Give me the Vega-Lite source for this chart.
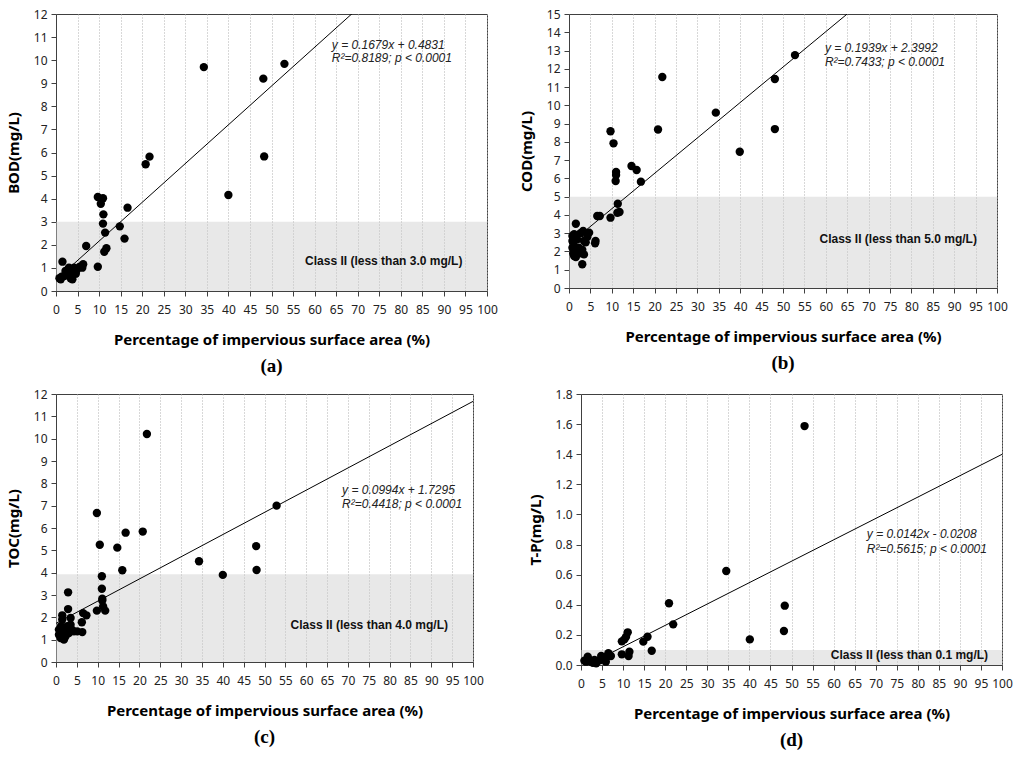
{
  "$schema": "https://vega.github.io/schema/vega-lite/v6.json",
  "padding": {"left": 5, "top": 7, "right": 5, "bottom": 5},
  "background": "white",
  "datasets": {
    "bod": [
      {"x": 34.3, "y": 9.7}, {"x": 40.0, "y": 4.16}, {"x": 20.8, "y": 5.49}, {"x": 21.7, "y": 5.82},
      {"x": 16.6, "y": 3.61}, {"x": 14.8, "y": 2.8}, {"x": 15.9, "y": 2.27}, {"x": 9.7, "y": 4.07},
      {"x": 10.9, "y": 4.02}, {"x": 10.4, "y": 3.78}, {"x": 11.0, "y": 3.32}, {"x": 10.9, "y": 2.92},
      {"x": 11.4, "y": 2.53}, {"x": 11.7, "y": 1.85}, {"x": 11.2, "y": 1.7}, {"x": 9.7, "y": 1.05},
      {"x": 7.0, "y": 1.95}, {"x": 6.3, "y": 1.16}, {"x": 6.1, "y": 1.01}, {"x": 53.0, "y": 9.84},
      {"x": 48.1, "y": 9.2}, {"x": 48.3, "y": 5.83}, {"x": 1.5, "y": 1.27}, {"x": 1.1, "y": 0.51},
      {"x": 1.9, "y": 0.65}, {"x": 2.6, "y": 0.72}, {"x": 3.4, "y": 0.87}, {"x": 3.8, "y": 0.51},
      {"x": 4.2, "y": 1.01}, {"x": 4.9, "y": 0.94}, {"x": 4.6, "y": 0.75}, {"x": 3.0, "y": 1.01},
      {"x": 3.4, "y": 0.55}, {"x": 2.2, "y": 0.87}, {"x": 1.3, "y": 0.62}, {"x": 0.8, "y": 0.55},
      {"x": 5.5, "y": 1.05}, {"x": 4.0, "y": 0.7}
    ],
    "cod": [
      {"x": 21.8, "y": 11.55}, {"x": 20.8, "y": 8.68}, {"x": 34.3, "y": 9.6}, {"x": 39.9, "y": 7.46},
      {"x": 48.1, "y": 11.44}, {"x": 48.1, "y": 8.7}, {"x": 52.8, "y": 12.75}, {"x": 9.7, "y": 8.58},
      {"x": 10.4, "y": 7.92}, {"x": 11.0, "y": 6.35}, {"x": 11.0, "y": 6.19}, {"x": 10.9, "y": 5.86},
      {"x": 14.6, "y": 6.68}, {"x": 15.8, "y": 6.46}, {"x": 16.8, "y": 5.82}, {"x": 11.4, "y": 4.61},
      {"x": 11.3, "y": 4.12}, {"x": 11.8, "y": 4.16}, {"x": 9.7, "y": 3.85}, {"x": 6.6, "y": 3.94},
      {"x": 7.2, "y": 3.94}, {"x": 6.1, "y": 2.45}, {"x": 6.2, "y": 2.57}, {"x": 1.6, "y": 3.52},
      {"x": 3.1, "y": 1.3}, {"x": 1.2, "y": 1.75}, {"x": 3.5, "y": 1.84}, {"x": 4.7, "y": 3.03},
      {"x": 3.3, "y": 3.12}, {"x": 1.2, "y": 2.94}, {"x": 0.8, "y": 2.57}, {"x": 0.8, "y": 2.2},
      {"x": 2.3, "y": 2.12}, {"x": 3.5, "y": 2.57}, {"x": 1.9, "y": 2.66}, {"x": 1.6, "y": 1.7},
      {"x": 2.3, "y": 2.21}, {"x": 1.9, "y": 2.03}, {"x": 3.1, "y": 2.1}, {"x": 0.8, "y": 2.85},
      {"x": 2.7, "y": 3.0}, {"x": 1.2, "y": 2.3}, {"x": 4.3, "y": 2.8}, {"x": 2.5, "y": 1.9},
      {"x": 3.9, "y": 2.5}, {"x": 1.0, "y": 1.9}
    ],
    "toc": [
      {"x": 21.8, "y": 10.21}, {"x": 9.8, "y": 6.67}, {"x": 10.5, "y": 5.25}, {"x": 14.7, "y": 5.12},
      {"x": 16.7, "y": 5.79}, {"x": 20.8, "y": 5.84}, {"x": 15.9, "y": 4.11}, {"x": 34.3, "y": 4.51},
      {"x": 40.0, "y": 3.9}, {"x": 48.0, "y": 5.19}, {"x": 48.1, "y": 4.12}, {"x": 52.9, "y": 7.0},
      {"x": 11.0, "y": 3.84}, {"x": 11.0, "y": 3.28}, {"x": 11.1, "y": 2.83}, {"x": 11.1, "y": 2.75},
      {"x": 11.3, "y": 2.49}, {"x": 11.8, "y": 2.3}, {"x": 9.8, "y": 2.3}, {"x": 6.5, "y": 2.19},
      {"x": 7.3, "y": 2.09}, {"x": 6.2, "y": 1.78}, {"x": 6.3, "y": 1.34}, {"x": 2.9, "y": 3.12},
      {"x": 2.9, "y": 2.37}, {"x": 3.5, "y": 1.97}, {"x": 1.5, "y": 2.09}, {"x": 1.5, "y": 1.9},
      {"x": 0.7, "y": 1.45}, {"x": 1.1, "y": 1.07}, {"x": 2.3, "y": 1.15}, {"x": 2.7, "y": 1.6},
      {"x": 4.3, "y": 1.37}, {"x": 5.1, "y": 1.37}, {"x": 3.5, "y": 1.67}, {"x": 1.5, "y": 1.37},
      {"x": 2.3, "y": 1.52}, {"x": 1.9, "y": 1.0}, {"x": 0.7, "y": 1.22}, {"x": 3.1, "y": 1.3},
      {"x": 1.2, "y": 1.6}, {"x": 2.0, "y": 1.25}, {"x": 3.8, "y": 1.45}
    ],
    "tp": [
      {"x": 53.1, "y": 1.587}, {"x": 34.5, "y": 0.624}, {"x": 20.9, "y": 0.41}, {"x": 21.9, "y": 0.27},
      {"x": 40.1, "y": 0.17}, {"x": 48.4, "y": 0.394}, {"x": 48.2, "y": 0.226}, {"x": 11.1, "y": 0.217},
      {"x": 10.7, "y": 0.188}, {"x": 10.3, "y": 0.17}, {"x": 9.7, "y": 0.157}, {"x": 15.8, "y": 0.188},
      {"x": 14.8, "y": 0.155}, {"x": 16.8, "y": 0.095}, {"x": 9.7, "y": 0.071}, {"x": 11.5, "y": 0.088},
      {"x": 11.3, "y": 0.06}, {"x": 6.5, "y": 0.078}, {"x": 7.1, "y": 0.06}, {"x": 1.2, "y": 0.022},
      {"x": 1.6, "y": 0.055}, {"x": 2.4, "y": 0.022}, {"x": 3.2, "y": 0.033}, {"x": 3.6, "y": 0.011},
      {"x": 4.8, "y": 0.06}, {"x": 4.6, "y": 0.033}, {"x": 5.5, "y": 0.038}, {"x": 6.1, "y": 0.055},
      {"x": 5.9, "y": 0.022}, {"x": 4.0, "y": 0.027}, {"x": 2.0, "y": 0.033}, {"x": 0.8, "y": 0.029},
      {"x": 2.8, "y": 0.015}, {"x": 5.2, "y": 0.05}
    ]
  },
  "vconcat": [
    {
      "hconcat": [
        {
          "width": 431,
          "height": 277,
          "title": "(a)",
          "encoding": {
            "x": {"field": "x", "type": "quantitative", "scale": {"domain": [0, 100], "nice": false},
              "axis": {"values": [0, 5, 10, 15, 20, 25, 30, 35, 40, 45, 50, 55, 60, 65, 70, 75, 80, 85, 90, 95, 100], "title": "Percentage of impervious surface area (%)"}},
            "y": {"field": "y", "type": "quantitative", "scale": {"domain": [0, 12], "nice": false},
              "axis": {"values": [0, 1, 2, 3, 4, 5, 6, 7, 8, 9, 10, 11, 12], "title": "BOD(mg/L)"}}
          },
          "layer": [
            {"data": {"values": [{"x": 0, "x2": 100, "y": 0, "y2": 3.0}]},
              "mark": {"type": "rect", "fill": "#cccccc", "fillOpacity": 0.45},
              "encoding": {"x2": {"field": "x2"}, "y2": {"field": "y2"}}},
            {"data": {"values": [{"x": 0, "y": 0.4831}, {"x": 100, "y": 17.2731}]},
              "mark": {"type": "line", "color": "black", "strokeWidth": 1, "clip": true}, "encoding": {}},
            {"data": {"name": "bod"}, "mark": {"type": "circle", "size": 70, "color": "black", "opacity": 1}},
            {"data": {"values": [{"x": 64.0, "y": 10.66, "label": "y = 0.1679x + 0.4831"}, {"x": 64.0, "y": 10.1, "label": "R²=0.8189; p < 0.0001"}]},
              "mark": {"type": "text", "align": "left", "baseline": "middle", "font": "Liberation Sans", "fontSize": 12, "fontStyle": "italic", "color": "#222"},
              "encoding": {"text": {"field": "label"}}},
            {"data": {"values": [{"x": 94.3, "y": 1.3, "label": "Class II (less than 3.0 mg/L)"}]},
              "mark": {"type": "text", "align": "right", "baseline": "middle", "font": "Liberation Sans", "fontSize": 12, "fontWeight": "bold", "color": "#111"},
              "encoding": {"text": {"field": "label"}}}
          ]
        },
        {
          "width": 428,
          "height": 274,
          "title": "(b)",
          "encoding": {
            "x": {"field": "x", "type": "quantitative", "scale": {"domain": [0, 100], "nice": false},
              "axis": {"values": [0, 5, 10, 15, 20, 25, 30, 35, 40, 45, 50, 55, 60, 65, 70, 75, 80, 85, 90, 95, 100], "title": "Percentage of impervious surface area (%)"}},
            "y": {"field": "y", "type": "quantitative", "scale": {"domain": [0, 15], "nice": false},
              "axis": {"values": [0, 1, 2, 3, 4, 5, 6, 7, 8, 9, 10, 11, 12, 13, 14, 15], "title": "COD(mg/L)"}}
          },
          "layer": [
            {"data": {"values": [{"x": 0, "x2": 100, "y": 0, "y2": 5.0}]},
              "mark": {"type": "rect", "fill": "#cccccc", "fillOpacity": 0.45},
              "encoding": {"x2": {"field": "x2"}, "y2": {"field": "y2"}}},
            {"data": {"values": [{"x": 0, "y": 2.3992}, {"x": 100, "y": 21.7892}]},
              "mark": {"type": "line", "color": "black", "strokeWidth": 1, "clip": true}, "encoding": {}},
            {"data": {"name": "cod"}, "mark": {"type": "circle", "size": 70, "color": "black", "opacity": 1}},
            {"data": {"values": [{"x": 59.8, "y": 13.14, "label": "y = 0.1939x + 2.3992"}, {"x": 59.8, "y": 12.37, "label": "R²=0.7433; p < 0.0001"}]},
              "mark": {"type": "text", "align": "left", "baseline": "middle", "font": "Liberation Sans", "fontSize": 12, "fontStyle": "italic", "color": "#222"},
              "encoding": {"text": {"field": "label"}}},
            {"data": {"values": [{"x": 95.3, "y": 2.68, "label": "Class II (less than 5.0 mg/L)"}]},
              "mark": {"type": "text", "align": "right", "baseline": "middle", "font": "Liberation Sans", "fontSize": 12, "fontWeight": "bold", "color": "#111"},
              "encoding": {"text": {"field": "label"}}}
          ]
        }
      ],
      "spacing": 20
    },
    {
      "hconcat": [
        {
          "width": 417,
          "height": 268,
          "title": "(c)",
          "encoding": {
            "x": {"field": "x", "type": "quantitative", "scale": {"domain": [0, 100], "nice": false},
              "axis": {"values": [0, 5, 10, 15, 20, 25, 30, 35, 40, 45, 50, 55, 60, 65, 70, 75, 80, 85, 90, 95, 100], "title": "Percentage of impervious surface area (%)"}},
            "y": {"field": "y", "type": "quantitative", "scale": {"domain": [0, 12], "nice": false},
              "axis": {"values": [0, 1, 2, 3, 4, 5, 6, 7, 8, 9, 10, 11, 12], "title": "TOC(mg/L)"}}
          },
          "layer": [
            {"data": {"values": [{"x": 0, "x2": 100, "y": 0, "y2": 3.93}]},
              "mark": {"type": "rect", "fill": "#cccccc", "fillOpacity": 0.45},
              "encoding": {"x2": {"field": "x2"}, "y2": {"field": "y2"}}},
            {"data": {"values": [{"x": 0, "y": 1.7295}, {"x": 100, "y": 11.6695}]},
              "mark": {"type": "line", "color": "black", "strokeWidth": 1, "clip": true}, "encoding": {}},
            {"data": {"name": "toc"}, "mark": {"type": "circle", "size": 70, "color": "black", "opacity": 1}},
            {"data": {"values": [{"x": 68.6, "y": 7.7, "label": "y = 0.0994x + 1.7295"}, {"x": 68.6, "y": 7.08, "label": "R²=0.4418; p < 0.0001"}]},
              "mark": {"type": "text", "align": "left", "baseline": "middle", "font": "Liberation Sans", "fontSize": 12, "fontStyle": "italic", "color": "#222"},
              "encoding": {"text": {"field": "label"}}},
            {"data": {"values": [{"x": 94.0, "y": 1.66, "label": "Class II (less than 4.0 mg/L)"}]},
              "mark": {"type": "text", "align": "right", "baseline": "middle", "font": "Liberation Sans", "fontSize": 12, "fontWeight": "bold", "color": "#111"},
              "encoding": {"text": {"field": "label"}}}
          ]
        },
        {
          "width": 421,
          "height": 271,
          "title": "(d)",
          "encoding": {
            "x": {"field": "x", "type": "quantitative", "scale": {"domain": [0, 100], "nice": false},
              "axis": {"values": [0, 5, 10, 15, 20, 25, 30, 35, 40, 45, 50, 55, 60, 65, 70, 75, 80, 85, 90, 95, 100], "title": "Percentage of impervious surface area (%)"}},
            "y": {"field": "y", "type": "quantitative", "scale": {"domain": [0, 1.8], "nice": false},
              "axis": {"values": [0, 0.2, 0.4, 0.6, 0.8, 1.0, 1.2, 1.4, 1.6, 1.8], "format": ".1f", "title": "T-P(mg/L)"}}
          },
          "layer": [
            {"data": {"values": [{"x": 0, "x2": 100, "y": 0, "y2": 0.1}]},
              "mark": {"type": "rect", "fill": "#cccccc", "fillOpacity": 0.45},
              "encoding": {"x2": {"field": "x2"}, "y2": {"field": "y2"}}},
            {"data": {"values": [{"x": 0, "y": -0.0208}, {"x": 100, "y": 1.3992}]},
              "mark": {"type": "line", "color": "black", "strokeWidth": 1, "clip": true}, "encoding": {}},
            {"data": {"name": "tp"}, "mark": {"type": "circle", "size": 70, "color": "black", "opacity": 1}},
            {"data": {"values": [{"x": 67.9, "y": 0.868, "label": "y = 0.0142x - 0.0208"}, {"x": 67.9, "y": 0.768, "label": "R²=0.5615; p < 0.0001"}]},
              "mark": {"type": "text", "align": "left", "baseline": "middle", "font": "Liberation Sans", "fontSize": 12, "fontStyle": "italic", "color": "#222"},
              "encoding": {"text": {"field": "label"}}},
            {"data": {"values": [{"x": 96.7, "y": 0.064, "label": "Class II (less than 0.1 mg/L)"}]},
              "mark": {"type": "text", "align": "right", "baseline": "middle", "font": "Liberation Sans", "fontSize": 12, "fontWeight": "bold", "color": "#111"},
              "encoding": {"text": {"field": "label"}}}
          ]
        }
      ],
      "spacing": 43
    }
  ],
  "spacing": 10,
  "config": {
    "view": {"stroke": "#404040", "strokeWidth": 1},
    "axis": {
      "labelFont": "Noto Sans", "labelFontSize": 12, "labelColor": "#222",
      "titleFont": "Noto Sans", "titleFontSize": 15, "titleFontWeight": "bold", "titleColor": "#000",
      "domainColor": "#404040", "tickColor": "#404040", "tickSize": 5
    },
    "axisX": {"grid": true, "gridDash": [1, 2], "gridColor": "#b0b0b0", "labelPadding": 8, "titlePadding": 17, "labelOverlap": false, "labelFlush": false},
    "axisY": {"grid": false, "labelPadding": 4, "titlePadding": 12},
    "title": {"font": "Liberation Serif", "fontSize": 19, "fontWeight": "bold", "orient": "bottom", "offset": 10, "color": "#000"}
  }
}
